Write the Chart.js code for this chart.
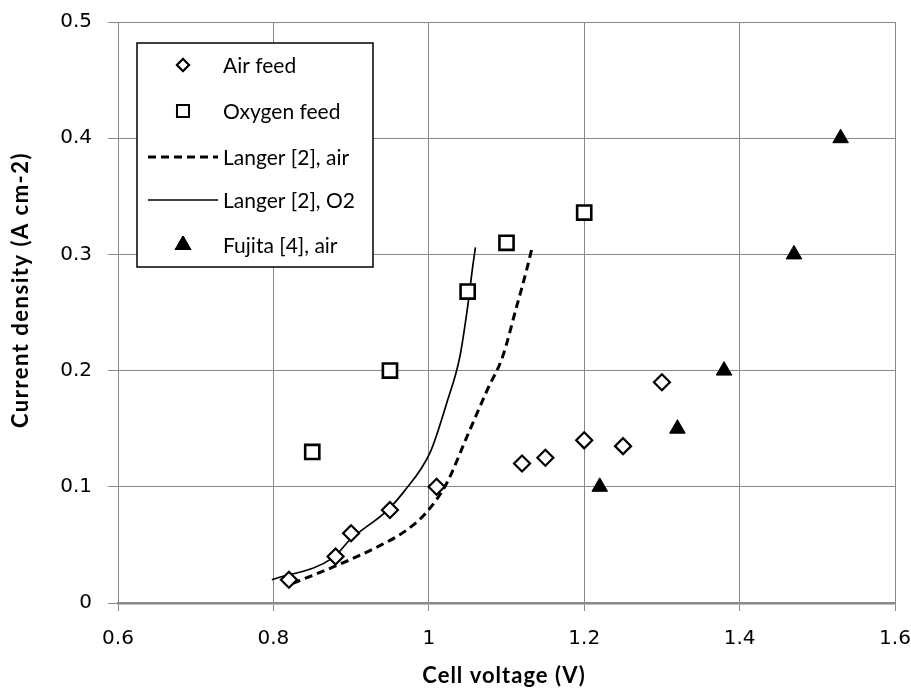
<!DOCTYPE html>
<html>
<head>
<meta charset="utf-8">
<script src="https://cdn.jsdelivr.net/npm/chart.js@4/dist/chart.umd.min.js"></script>
<style>
  html, body { margin: 0; padding: 0; background: #fff; }
  #wrap { width: 911px; height: 688px; }
</style>
</head>
<body>
<div id="wrap"><canvas id="chart" width="911" height="688"></canvas></div>
<script>
// measured points
const airV = [0.82, 0.88, 0.90, 0.95, 1.01, 1.12, 1.15, 1.20, 1.25, 1.30]
const airJ = [0.02, 0.04, 0.06, 0.08, 0.10, 0.12, 0.125, 0.14, 0.135, 0.19]
const oxyV = [0.85, 0.95, 1.05, 1.10, 1.20]
const oxyJ = [0.13, 0.20, 0.268, 0.31, 0.336]
const fujitaV = [1.22, 1.32, 1.38, 1.47, 1.53]
const fujitaJ = [0.10, 0.15, 0.20, 0.30, 0.40]

// model curves
const langerAirV = [0.825, 0.877, 0.933, 0.972, 0.997, 1.023, 1.049, 1.075, 1.095, 1.113, 1.126, 1.133]
const langerAirJ = [0.017, 0.031, 0.048, 0.063, 0.078, 0.103, 0.143, 0.183, 0.212, 0.255, 0.287, 0.306]
const langerO2V = [0.798, 0.877, 0.898, 0.947, 0.967, 1.002, 1.023, 1.040, 1.050, 1.057, 1.060]
const langerO2J = [0.020, 0.039, 0.054, 0.080, 0.095, 0.130, 0.172, 0.212, 0.255, 0.292, 0.306]

const xTicks = [0.6, 0.8, 1.0, 1.2, 1.4, 1.6]
const yTicks = [0, 0.1, 0.2, 0.3, 0.4, 0.5]

const xTitle = 'Cell voltage (V)'
const yTitle = 'Current density (A cm-2)'

const toXY = (xs, ys) => xs.map((x, i) => ({ x, y: ys[i] }))

const textFont = "Lato, 'Liberation Sans', sans-serif"
const tickFont = "'DejaVu Sans', Verdana, sans-serif"

// axis titles sit off-centre in the original, so they are drawn here
const axisTitles = {
    id: 'axisTitles',
    afterDraw(chart) {
        const ctx = chart.ctx
        ctx.save()
        ctx.fillStyle = '#000'
        ctx.font = 'bold 22px ' + textFont
        ctx.letterSpacing = '1px'
        ctx.textAlign = 'center'
        ctx.textBaseline = 'middle'
        ctx.fillText(xTitle, 504, 676)
        ctx.translate(21, 290)
        ctx.rotate(-Math.PI / 2)
        ctx.letterSpacing = '1.5px'
        ctx.fillText(yTitle, 0, 0)
        ctx.restore()
    }
}

const legendBox = {
    id: 'legendBox',
    afterDraw(chart) {
        const ctx = chart.ctx
        const left = 137, top = 43, w = 236, h = 224
        ctx.save()
        ctx.fillStyle = '#fff'
        ctx.fillRect(left, top, w, h)
        ctx.strokeStyle = '#000'
        ctx.lineWidth = 1.5
        ctx.strokeRect(left, top, w, h)
        const rows = [65, 111, 157, 200, 245]
        ctx.font = '21px ' + textFont
        ctx.textBaseline = 'middle'
        chart.data.datasets.forEach((ds, i) => {
            const y = rows[i]
            ctx.lineWidth = ds.borderWidth
            ctx.strokeStyle = '#000'
            ctx.fillStyle = ds.pointBackgroundColor || '#fff'
            if (ds.showLine) {
                ctx.setLineDash(ds.borderDash || [])
                ctx.beginPath()
                ctx.moveTo(148, y)
                ctx.lineTo(218, y)
                ctx.stroke()
                ctx.setLineDash([])
            } else {
                Chart.helpers.drawPoint(ctx, {
                    pointStyle: ds.pointStyle,
                    radius: ds.legendRadius,
                    borderWidth: 1.4
                }, 183, y)
                ctx.fill()
                ctx.stroke()
            }
            ctx.fillStyle = '#000'
            ctx.fillText(ds.label, 223, y + 1)
        })
        ctx.restore()
    }
}

const chart = new Chart(document.getElementById('chart').getContext('2d'), {
    type: 'scatter',
    data: {
        datasets: [
            {
                label: 'Air feed', data: toXY(airV, airJ), pointStyle: 'rectRot', pointRadius: 8, legendRadius: 6,
                pointBackgroundColor: '#fff', pointBorderColor: '#000', pointBorderWidth: 2.2, borderWidth: 2, order: 1
            },
            {
                label: 'Oxygen feed', data: toXY(oxyV, oxyJ), pointStyle: 'rect', pointRadius: 10, legendRadius: 8.5,
                pointBackgroundColor: '#fff', pointBorderColor: '#000', pointBorderWidth: 2.6, borderWidth: 2, order: 1
            },
            {
                label: 'Langer [2], air', data: toXY(langerAirV, langerAirJ), showLine: true, pointRadius: 0,
                borderColor: '#000', borderWidth: 3, borderDash: [8, 5], cubicInterpolationMode: 'monotone', order: 2
            },
            {
                label: 'Langer [2], O2', data: toXY(langerO2V, langerO2J), showLine: true, pointRadius: 0,
                borderColor: '#000', borderWidth: 1.7, cubicInterpolationMode: 'monotone', order: 2
            },
            {
                label: 'Fujita [4], air', data: toXY(fujitaV, fujitaJ), pointStyle: 'triangle', pointRadius: 9, legendRadius: 9,
                pointBackgroundColor: '#000', pointBorderColor: '#000', pointBorderWidth: 1, borderWidth: 1, order: 1
            }
        ]
    },
    options: {
        responsive: false,
        animation: false,
        layout: { padding: 0 },
        plugins: { legend: { display: false }, tooltip: { enabled: false } },
        scales: {
            x: {
                type: 'linear', min: 0.6, max: 1.6,
                afterBuildTicks: axis => { axis.ticks = xTicks.map(value => ({ value })) },
                afterFit: axis => { axis.height = 85; axis.paddingRight = 16 },
                grid: { color: '#888', lineWidth: 1, tickLength: 8 },
                border: { color: '#888', width: 2.5 },
                ticks: { color: '#000', font: { family: tickFont, size: 20 }, padding: 16,
                    callback: v => String(Math.round(v * 10) / 10) },
                title: { display: false }
            },
            y: {
                type: 'linear', min: 0, max: 0.5,
                afterBuildTicks: axis => { axis.ticks = yTicks.map(value => ({ value })) },
                afterFit: axis => { axis.width = 118; axis.paddingTop = 22 },
                grid: { color: '#888', lineWidth: 1, tickLength: 10 },
                border: { color: '#888', width: 1 },
                ticks: { color: '#000', font: { family: tickFont, size: 20 }, padding: 16,
                    callback: v => String(Math.round(v * 10) / 10) },
                title: { display: false }
            }
        }
    },
    plugins: [axisTitles, legendBox]
})
</script>
</body>
</html>
